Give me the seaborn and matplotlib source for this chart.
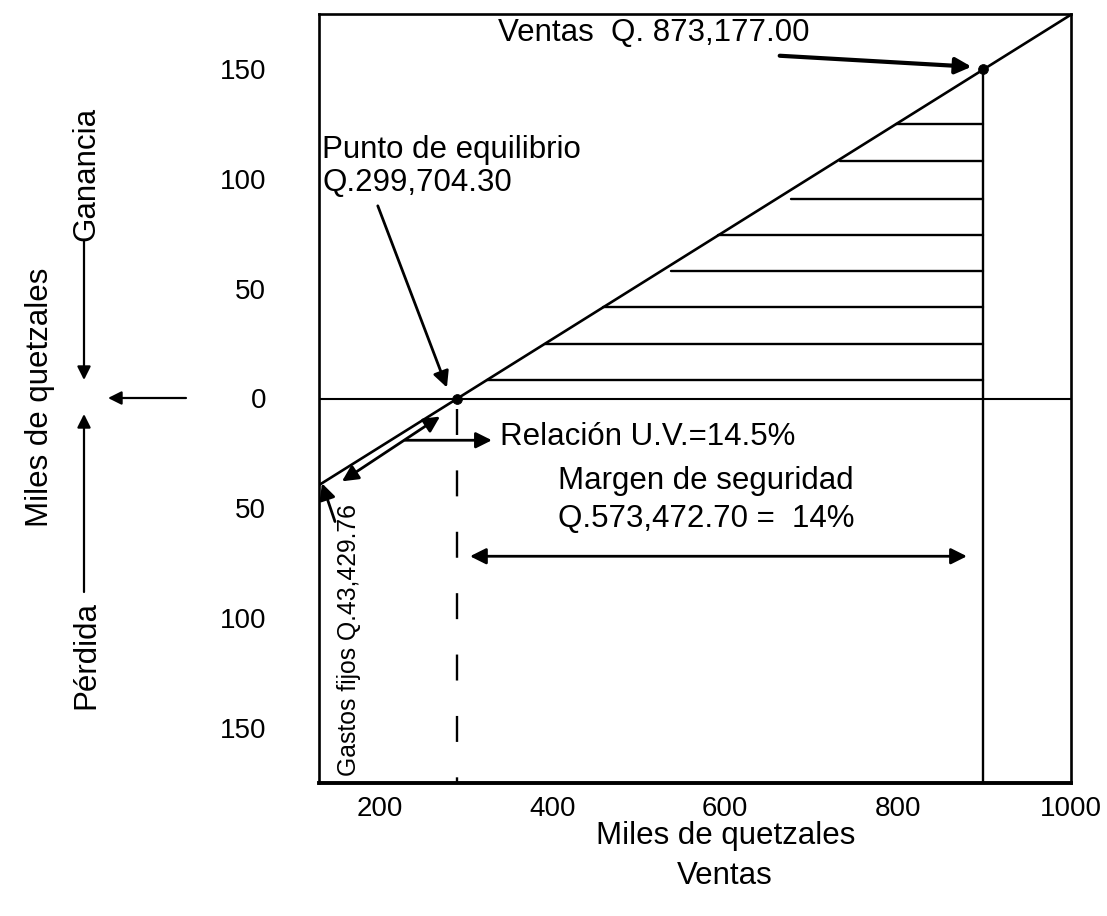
import matplotlib
matplotlib.use("Agg")
import matplotlib.pyplot as plt
import seaborn as sns
import pandas as pd

# datos (miles de quetzales)
ventas_x = [130, 1000]
ventas_y = [-39.4, 174.7]
equilibrio = (290, 0)
ventas_punto = (898, 150)
rayas_y = [8.5, 25, 41.5, 58, 74.5, 91, 108, 125]
rayas_inicio = [324, 391, 458, 537, 592, 676, 733, 797]
x_ticks = [200, 400, 600, 800, 1000]
y_ticks = [-150, -100, -50, 0, 50, 100, 150]
y_labels = ["150", "100", "50", "0", "50", "100", "150"]

sns.set_style("white")
plt.rcParams['font.family'] = ['Liberation Sans', 'DejaVu Sans']
plt.rcParams['text.color'] = 'black'
plt.rcParams['xtick.color'] = 'black'
plt.rcParams['ytick.color'] = 'black'

W, H = 1107, 916
fig = plt.figure(figsize=(W / 100, H / 100), dpi=100)
ax = fig.add_axes([319 / W, 1 - 783 / H, (1071 - 319) / W, (783 - 14) / H])

linea = pd.DataFrame({"x": ventas_x, "y": ventas_y})
sns.lineplot(data=linea, x="x", y="y", color="black", lw=1.9, ax=ax)

ax.axhline(0, color="black", lw=1.5)
for y, x0 in zip(rayas_y, rayas_inicio):
    ax.plot([x0, ventas_punto[0]], [y, y], color="black", lw=1.7)
ax.plot([ventas_punto[0], ventas_punto[0]], [-175, ventas_punto[1]], color="black", lw=1.7)
ax.plot([equilibrio[0], equilibrio[0]], [-5, -175], color="black", lw=1.7,
        dashes=(11, 15))

puntos = pd.DataFrame({"x": [equilibrio[0], ventas_punto[0]],
                       "y": [equilibrio[1], ventas_punto[1]]})
sns.scatterplot(data=puntos, x="x", y="y", color="black", s=50, marker="o",
                edgecolor="black", ax=ax, zorder=5)

ax.set_xlim(130, 1000)
ax.set_ylim(-175, 175)
ax.set_xticks(x_ticks)
ax.set_yticks(y_ticks)
ax.set_yticklabels(y_labels)
ax.set_xlabel("")
ax.set_ylabel("")
ax.tick_params(axis="both", length=0, labelsize=20, labelcolor="black")
ax.tick_params(axis="y", pad=38)
ax.tick_params(axis="x", pad=9)
for s in ax.spines.values():
    s.set_color("black")
    s.set_linewidth(1.9)
ax.spines["bottom"].set_linewidth(2.8)

fs = 22.5
flecha = dict(arrowstyle="-|>", color="black", lw=2, mutation_scale=24, shrinkA=0, shrinkB=0)
doble = dict(arrowstyle="<|-|>", color="black", lw=2, mutation_scale=24, shrinkA=0, shrinkB=0)

ax.text(337, 166.4, "Ventas  Q. 873,177.00", fontsize=fs, va="center", ha="left")
ax.annotate("", xy=(885, 151), xytext=(663, 156),
            arrowprops=dict(flecha, lw=3))

ax.text(133.5, 105.5, "Punto de equilibrio\nQ.299,704.30", fontsize=fs,
        va="center", ha="left", linespacing=1.12)
ax.annotate("", xy=(278, 5), xytext=(198, 87.7), arrowprops=flecha)

ax.text(339, -17.7, "Relación U.V.=14.5%", fontsize=fs, va="center", ha="left")
ax.annotate("", xy=(330, -19), xytext=(229.5, -19), arrowprops=flecha)

ax.annotate("", xy=(270, -8.2), xytext=(156.6, -37.7), arrowprops=doble)

ax.text(406.5, -37.7, "Margen de seguridad", fontsize=fs, va="center", ha="left")
ax.text(406.5, -55, "Q.573,472.70 =  14%", fontsize=fs, va="center", ha="left")
ax.annotate("", xy=(879.6, -71.8), xytext=(304.7, -71.8), arrowprops=doble)

ax.text(164.7, -110, "Gastos fijos Q.43,429.76", fontsize=17.8, rotation=90,
        va="center", ha="center")
ax.annotate("", xy=(133.5, -38.6), xytext=(148.5, -56), arrowprops=flecha)

# textos y flechas fuera del eje (pixeles de figura)
def fp(x, y):
    return (x, H - y)

fig.text(726 / W, 1 - 836 / H, "Miles de quetzales", fontsize=fs, ha="center", va="center")
fig.text(725 / W, 1 - 876 / H, "Ventas", fontsize=fs, ha="center", va="center")
fig.text(40 / W, 1 - 397 / H, "Miles de quetzales", fontsize=fs, rotation=90,
         ha="center", va="center")
fig.text(86 / W, 1 - 174 / H, "Ganancia", fontsize=fs, rotation=90,
         ha="center", va="center")
fig.text(86 / W, 1 - 655 / H, "Pérdida", fontsize=fs, rotation=90,
         ha="center", va="center")

for a, b in [((84, 240), (84, 380)), ((84, 592), (84, 414)), ((186, 398), (108, 398))]:
    ax.annotate("", xy=fp(*b), xytext=fp(*a), xycoords="figure pixels",
                textcoords="figure pixels", annotation_clip=False,
                arrowprops=dict(flecha, lw=1.6, mutation_scale=20))

fig.savefig("out.png", dpi=100)
